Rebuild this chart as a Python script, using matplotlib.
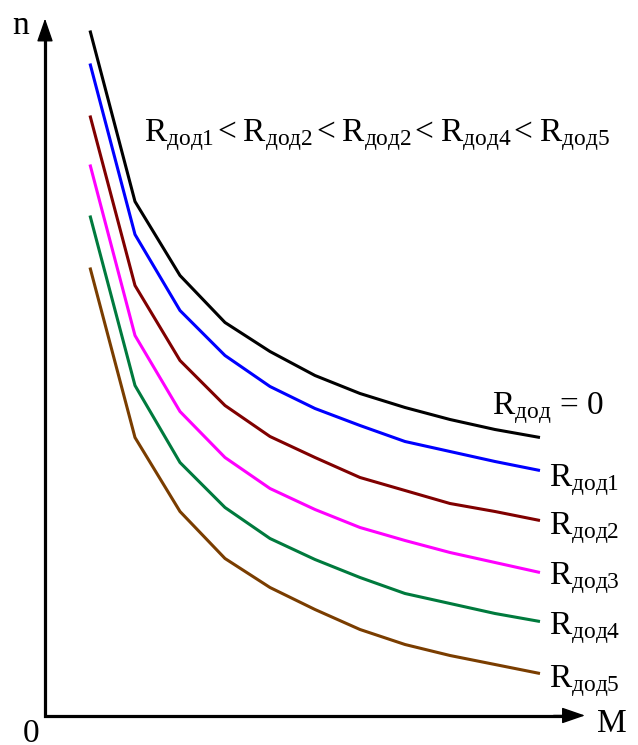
import matplotlib
matplotlib.use("Agg")
import matplotlib.pyplot as plt

plt.rcParams["font.family"] = ["Liberation Serif", "DejaVu Serif"]
plt.rcParams["mathtext.fontset"] = "custom"
plt.rcParams["mathtext.rm"] = "Liberation Serif"
plt.rcParams["mathtext.it"] = "Liberation Serif:italic"
plt.rcParams["mathtext.bf"] = "Liberation Serif:bold"

# Torque M (relative units)
M = [1, 2, 3, 4, 5, 6, 7, 8, 9, 10, 11]

# Speed n for each added rotor resistance
n_r0 = [68.5, 51.4, 44.0, 39.3, 36.4, 34.0, 32.2, 30.8, 29.6, 28.6, 27.8]
n_r1 = [65.2, 48.1, 40.5, 36.0, 32.9, 30.7, 29.0, 27.4, 26.4, 25.4, 24.5]
n_r2 = [60.0, 43.0, 35.5, 31.0, 27.9, 25.8, 23.8, 22.5, 21.2, 20.4, 19.5]
n_r3 = [55.1, 38.0, 30.4, 25.8, 22.7, 20.6, 18.8, 17.5, 16.3, 15.3, 14.3]
n_r4 = [50.0, 33.0, 25.3, 20.8, 17.7, 15.6, 13.8, 12.2, 11.2, 10.2, 9.4]
n_r5 = [44.8, 27.8, 20.4, 15.7, 12.8, 10.6, 8.6, 7.1, 6.0, 5.1, 4.2]

series = [n_r0, n_r1, n_r2, n_r3, n_r4, n_r5]
colors = ["#000000", "#0000FF", "#800000", "#FF00FF", "#007A3D", "#7A3D00"]
labels = [r"R$_{\mathrm{дод}}$ = 0", r"R$_{\mathrm{дод1}}$", r"R$_{\mathrm{дод2}}$",
          r"R$_{\mathrm{дод3}}$", r"R$_{\mathrm{дод4}}$", r"R$_{\mathrm{дод5}}$"]
title_terms = [r"R$_{\mathrm{дод1}}$", r"R$_{\mathrm{дод2}}$", r"R$_{\mathrm{дод2}}$",
               r"R$_{\mathrm{дод4}}$", r"R$_{\mathrm{дод5}}$"]
title = "\u200a<\u2009".join(title_terms)

fig = plt.figure(figsize=(6.38, 7.45), dpi=100)
ax = fig.add_axes([0, 0, 1, 1])
ax.set_xlim(-1.0, 13.178)
ax.set_ylim(-2.95, 71.55)
ax.axis("off")

# curves
for y, c in zip(series, colors):
    ax.plot(M, y, color=c, lw=2.2, solid_joinstyle="miter", solid_capstyle="butt")

# axes with arrows
x_tip, y_tip = 12.0, 69.7
ax.plot([0, 0, x_tip - 0.3], [y_tip - 1.5, 0, 0], color="k", lw=2.3,
        solid_joinstyle="miter", solid_capstyle="butt")
head = dict(arrowstyle="-|>,head_length=1.45,head_width=0.5", color="k", lw=1.0,
            shrinkA=0, shrinkB=0, mutation_scale=10)
ax.annotate("", xy=(0, y_tip), xytext=(0, y_tip - 3.0), arrowprops=head)
ax.annotate("", xy=(x_tip, 0), xytext=(x_tip - 0.7, 0), arrowprops=head)

fs = 24
ax.text(-0.72, 68.1, "n", fontsize=fs, ha="left", va="baseline")
ax.text(12.27, -1.6, "M", fontsize=fs, ha="left", va="baseline")
ax.text(-0.5, -2.6, "0", fontsize=fs, ha="left", va="baseline")

# curve labels at the right ends
label_pos = [(9.93, 30.1), (11.2, 22.9), (11.2, 18.1), (11.2, 13.1), (11.2, 8.1), (11.2, 2.8)]
for (lx, ly), lab in zip(label_pos, labels):
    ax.text(lx, ly, lab, fontsize=fs, ha="left", va="baseline")

ax.text(2.2, 57.4, title, fontsize=fs, ha="left", va="baseline")

fig.savefig("out.png", dpi=100)
